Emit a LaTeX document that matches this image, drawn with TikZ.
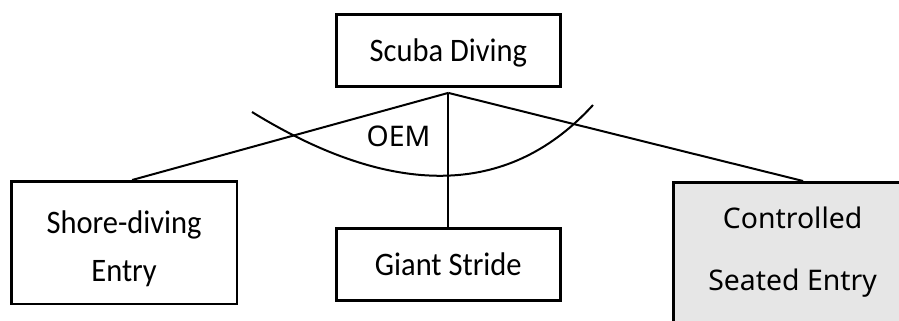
\documentclass[tikz,border=0pt]{standalone}
\usepackage{fontspec}
\setmainfont{Carlito}[FakeStretch=0.93]
\newfontfamily\notosans{Noto Sans}
\definecolor{seatgray}{RGB}{230,230,230}
\tikzset{
  entrybox/.style={draw, line width=1.3pt, anchor=north west, inner xsep=0pt, inner ysep=0pt,
    align=center, font=\fontsize{16.4}{24}\selectfont},
  link/.style={line width=1pt},
}
\begin{document}
\begin{tikzpicture}[x=0.5pt, y=-0.5pt]
\useasboundingbox (0,0) rectangle (899,321);
\clip (0,0) rectangle (899,321);

\node[entrybox, minimum width=112pt, text height=23.25pt, text depth=12.75pt] (scuba) at (335,13.3) {Scuba Diving};
\node[entrybox, minimum width=112pt, text height=23.25pt, text depth=12.75pt] (giant) at (335,227.3) {Giant Stride};
\node[entrybox, minimum width=112.8pt, text height=50.25pt, text depth=11.05pt] (shore) at (10,180) {Shore-diving\\Entry};
\node[entrybox, fill=seatgray, font=\notosans\fontsize{14.2}{31}\selectfont, minimum width=119.3pt, text height=53.9pt, text depth=30pt] (ctrl) at (672,181) {Controlled\\Seated Entry};

\coordinate (hub) at ([yshift=-2.5pt]scuba.south);
\draw[link] (hub) -- ([xshift=4pt]shore.north);
\draw[link] (hub) -- (giant.north);
\draw[link] (hub) -- ([xshift=5.25pt]ctrl.north);

\draw[link] (252,112) .. controls (400,203) and (513,193) .. (593,105);
\node[font=\notosans\fontsize{14.2}{17}\selectfont, inner sep=0pt] (oem) at (398.5,136.5) {OEM};
\end{tikzpicture}
\end{document}
